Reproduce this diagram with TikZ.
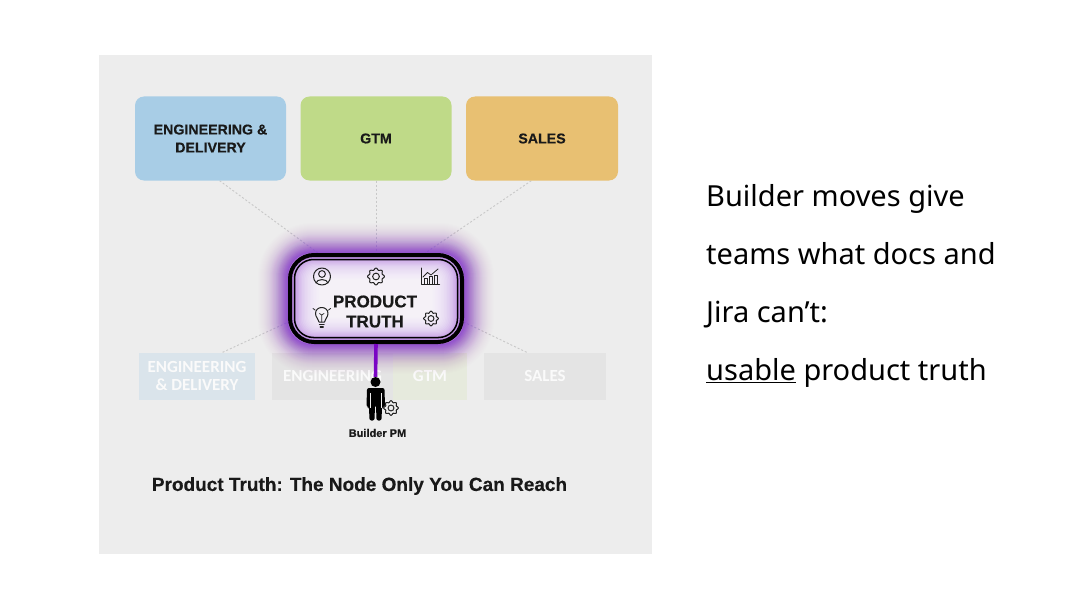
\documentclass[tikz,border=0pt]{standalone}
\usepackage{fontspec}
\setmainfont{Liberation Sans}[BoldFeatures={FakeBold=0.35}]
\newfontfamily\rightfont{Noto Sans}
\newfontfamily\fadefont{Carlito}
\usetikzlibrary{calc}
\pgfdeclarelayer{panel}
\pgfdeclarelayer{under}
\pgfdeclarelayer{halo}
\pgfsetlayers{panel,under,halo,main}
\definecolor{panelgray}{HTML}{EDEDED}
\definecolor{engblue}{HTML}{A8CDE6}
\definecolor{gtmgreen}{HTML}{BFDA88}
\definecolor{salesorange}{HTML}{E8C072}
\definecolor{glowpurple}{HTML}{8A35CC}
\definecolor{stempurple}{HTML}{7A05C4}
\definecolor{linkgray}{HTML}{C8C8C8}
\definecolor{icongray}{HTML}{222222}
\tikzset{
  x=1pt,y=-1pt,
  topbox/.style={rounded corners=9pt,inner sep=0pt,minimum width=#1,minimum height=84pt,align=center,
     font=\fontsize{14.2}{18}\selectfont\bfseries,text=black!90},
  fadebox/.style={inner sep=0pt,minimum height=47pt,align=center,text=white!70!panelgray,
     font=\fadefont\fontsize{17}{18}\selectfont\bfseries},
  link/.style={draw=linkgray,line width=.9pt,dash pattern=on 2pt off 2pt},
  iconline/.style={draw=icongray,line width=1pt,line join=round,line cap=round},
  pics/gearicon/.style={code={
    \draw[iconline] plot[smooth cycle,samples=48,domain=0:352.5] (\x:{#1*(1+.13*cos(8*\x))});
    \draw[iconline] (0,0) circle[radius=#1*.45];
  }},
}
\begin{document}
\begin{tikzpicture}
\useasboundingbox (0,0) rectangle (1081,607);
\begin{pgfonlayer}{panel}
  \fill[white] (0,0) rectangle (1081,607);
  \fill[panelgray] (99,55) rectangle (652,554);
\end{pgfonlayer}

% top boxes
\node[topbox=151pt,fill=engblue] (eng) at (210.5,138.5) {ENGINEERING \&\\DELIVERY};
\node[topbox=151pt,fill=gtmgreen] (gtm) at (376,138.5) {GTM};
\node[topbox=152pt,fill=salesorange] (sales) at (542,138.5) {SALES};

% central box
\node[draw=black,line width=4pt,rounded corners=24pt,minimum width=172pt,minimum height=87pt,inner sep=0pt] (truth) at (376,298.5) {};

% faded boxes and connectors beneath the halo
\begin{pgfonlayer}{under}
  \node[fadebox,minimum width=116pt,fill=engblue!28!panelgray] (fadeeng) at (197,376)
     {ENGINEERING\\\& DELIVERY};
  \node[fadebox,minimum width=121pt,fill=black!4!panelgray] (fadeengb) at (332.5,376) {ENGINEERING};
  \node[fadebox,minimum width=74pt,fill=gtmgreen!16!panelgray] (fadegtm) at (430,376) {GTM};
  \node[fadebox,minimum width=122pt,fill=black!4!panelgray] (fadesales) at (545,376) {SALES};
  \draw[link] ($(eng.south west)!.56!(eng.south east)$) -- ($(truth.north west)!.17!(truth.north east)$);
  \draw[link] (gtm.south) -- (truth.north);
  \draw[link] ($(sales.south west)!.43!(sales.south east)$) -- ($(truth.north west)!.78!(truth.north east)$);
  \draw[link] ($(fadeeng.north west)!.72!(fadeeng.north east)$) -- ($(truth.north west)!.76!(truth.south west)$);
  \draw[link] ($(fadesales.north west)!.35!(fadesales.north east)$) -- ($(truth.north east)!.76!(truth.south east)$);
\end{pgfonlayer}

% purple halo
\begin{pgfonlayer}{halo}
  \foreach \g in {1,...,30}{
    \pgfmathsetmacro{\gr}{24+\g}
    \pgfmathsetmacro{\gd}{\g}
    \pgfmathsetmacro{\go}{.006+.13*(1-\g/30)*(1-\g/30)}
    \fill[glowpurple,opacity=\go,rounded corners=\gr pt]
      ($(truth.north west)+(-\gd,-\gd)$) rectangle ($(truth.south east)+(\gd,\gd)$);
  }
  % inner glow
  \fill[glowpurple!70!white,rounded corners=24pt] (truth.north west) rectangle (truth.south east);
  \foreach \g in {1,...,20}{
    \pgfmathsetmacro{\gi}{2+1.5*\g}
    \pgfmathsetmacro{\gj}{.85*\gi}
    \pgfmathsetmacro{\gr}{max(4,22-1.0*\g)}
    \fill[white,opacity=.12,rounded corners=\gr pt]
      ($(truth.north west)+(\gi,\gj)$) rectangle ($(truth.south east)+(-\gi,-\gj)$);
  }
\end{pgfonlayer}

\draw[black,line width=1.5pt,rounded corners=19pt] ($(truth.north west)+(6.5,6.5)$) rectangle ($(truth.south east)+(-6.5,-6.5)$);

\node[inner sep=0pt,align=center,font=\fontsize{17}{20}\selectfont\bfseries,text=black!90] (truthlabel) at (375,311.5) {PRODUCT\\TRUTH};

% icons
\draw[iconline] (322,276.5) circle[radius=8.5];
\draw[iconline] (322,274) circle[radius=3.4];
\draw[iconline] (316,283) .. controls (316.5,278.5) and (327.5,278.5) .. (328,283);
\pic at (376,276.5) {gearicon=7.5};
\pic at (431,318.5) {gearicon=6.5};
% chart icon
\draw[iconline] (421.5,268) -- (421.5,284.5) -- (439.5,284.5);
\draw[iconline,line width=.8pt] (424,284) rectangle (427,278) (429,284) rectangle (432,276.5) (434,284) rectangle (437,275.5);
\draw[iconline,line width=.8pt] (423,277) -- (427.5,272.5) -- (431,275) -- (438,269);
% bulb icon
\draw[iconline] (319,322) .. controls (319,319) and (315.5,317.5) .. (315.5,313.5)
   .. controls (315.5,305.5) and (328,305.5) .. (328,313.5)
   .. controls (328,317.5) and (324.5,319) .. (324.5,322) -- cycle;
\draw[iconline,line width=.7pt] (321.7,322) -- (321.7,315) (319.5,313.5) -- (321.7,315) -- (324,313.5);
\draw[iconline,line width=1.4pt] (319.5,324.5) -- (324,324.5) (320.3,327) -- (323.2,327);
\draw[iconline,line width=.8pt] (313,308.5) -- (315,310) (330.5,308.5) -- (328.5,310);

% builder figure
\node[circle,fill=black,inner sep=0pt,minimum size=10pt] (head) at (375.5,382) {};
\draw[stempurple,line width=3.6pt] (truth.south) -- (head.north);
\fill[black,rounded corners=2pt] (367,388) -- (384.5,388) -- (385,407) -- (382,407) -- (381.5,420.5)
   -- (376.5,420.5) -- (376,405) -- (375,405) -- (374.5,420.5) -- (369.5,420.5) -- (369,407) -- (366.5,407) -- cycle;
\draw[panelgray,line width=.7pt] (370.2,393) -- (370.2,408) (381.4,393) -- (381.4,408);
\pic at (391,408) {gearicon=6.5};
\node[inner sep=0pt,font=\fontsize{11}{13}\selectfont\bfseries,text=black!90] (builder) at (377.5,433) {Builder PM};

% caption
\node[inner sep=0pt,font=\fontsize{19}{24}\selectfont\bfseries,text=black!90] (caption) at (359.5,486) {Product Truth: The Node Only You Can Reach};

% side text
\node[anchor=north west,inner sep=0pt,align=left,text=black,
      font=\rightfont\fontsize{29}{58}\selectfont] (sidetext) at (706,184)
  {Builder moves give\\teams what docs and\\Jira can’t:\\\underline{usable} product truth};
\end{tikzpicture}
\end{document}
